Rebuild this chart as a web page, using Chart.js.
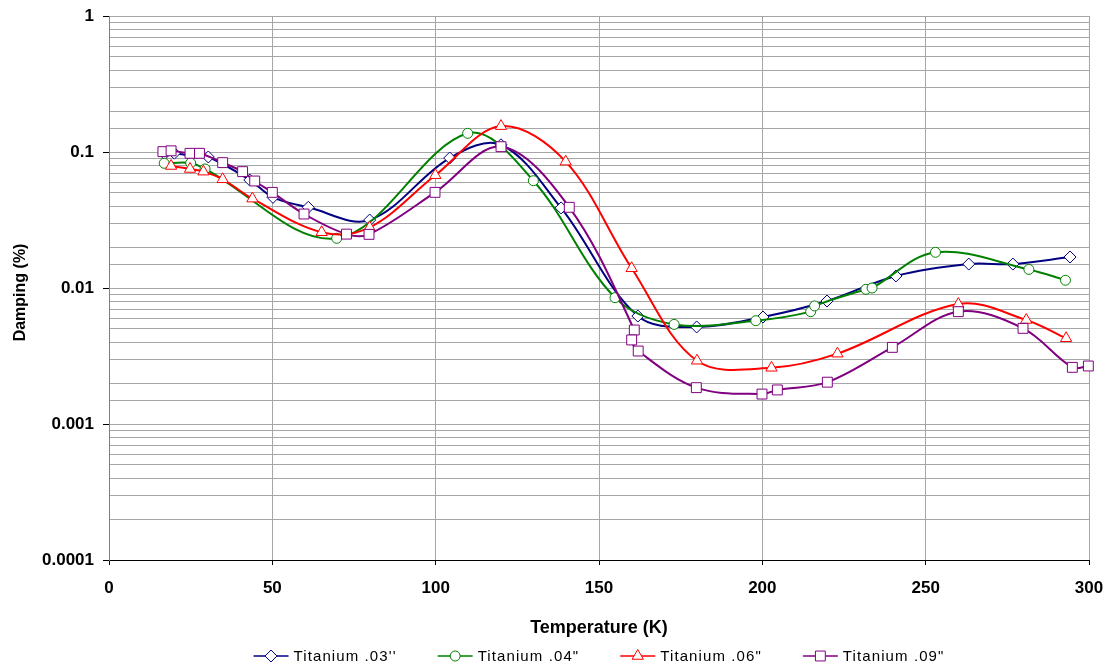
<!DOCTYPE html>
<html>
<head>
<meta charset="utf-8">
<script src="https://cdn.jsdelivr.net/npm/chart.js@4.4.1/dist/chart.umd.min.js"></script>
<style>
  html, body { margin: 0; padding: 0; background: #fff; }
</style>
</head>
<body>
<canvas id="chart" width="1109" height="668"></canvas>
<script>
// Temperature (K) and damping (%)
const temp03 = [17, 20, 25, 30.4, 43.1, 50.2, 61, 79.8, 104.3, 120, 138.4, 161.9, 179.9, 200.2, 219.8, 240.9, 263.2, 276.7, 294.2]
const damp03 = [0.097, 0.098, 0.094, 0.0919, 0.0622, 0.0464, 0.0392, 0.0316, 0.0903, 0.113, 0.0388, 0.00622, 0.00517, 0.00612, 0.00802, 0.01226, 0.0150, 0.0150, 0.0169]

const temp04 = [16.9, 25, 29.4, 69.7, 109.8, 129.9, 154.9, 173, 198, 214.8, 216, 231.7, 233.6, 253, 281.6, 292.8]
const damp04 = [0.0826, 0.083, 0.075, 0.0232, 0.1372, 0.0615, 0.00849, 0.0054, 0.00575, 0.0067, 0.00738, 0.00978, 0.0100, 0.0183, 0.0137, 0.0114]

const temp06 = [19, 24.8, 28.9, 34.8, 43.9, 65.1, 79.8, 99.9, 120, 139.8, 160, 180, 202.8, 223, 260, 280.8, 293]
const damp06 = [0.0789, 0.075, 0.0717, 0.063, 0.0454, 0.0257, 0.0279, 0.0675, 0.155, 0.0849, 0.01396, 0.00292, 0.00259, 0.00329, 0.00762, 0.00582, 0.00427]

const temp09 = [16.5, 19, 24.8, 27.7, 34.8, 40.9, 44.6, 50, 59.7, 72.7, 79.6, 99.8, 120, 140.9, 160.8, 160, 162, 179.8, 199.9, 204.6, 219.9, 239.8, 260, 279.8, 294.9, 299.8]
const damp09 = [0.1006, 0.102, 0.0978, 0.0978, 0.0835, 0.0717, 0.0612, 0.0505, 0.035, 0.0249, 0.0248, 0.0505, 0.1094, 0.0392, 0.00491, 0.00415, 0.00344, 0.00185, 0.00166, 0.00178, 0.00203, 0.00366, 0.0067, 0.00505, 0.00261, 0.00267]

const seriesNames = ["Titanium .03''", 'Titanium .04"', 'Titanium .06"', 'Titanium .09"']
const yTickLabels = ['0.0001', '0.001', '0.01', '0.1', '1']
const xTicks = [0, 50, 100, 150, 200, 250, 300]

const FONT = '"Liberation Sans", Arial, sans-serif'

function toPoints(xs, ys) {
    return xs.map((x, i) => ({ x: x, y: ys[i] }))
}

function isDecade(v) {
    const l = Math.log10(v)
    return Math.abs(l - Math.round(l)) < 1e-6
}

function series(label, xs, ys, color, style, radius, order) {
    return {
        label: label,
        data: toPoints(xs, ys),
        showLine: true,
        borderColor: color,
        borderWidth: 2,
        tension: 0.35,
        pointStyle: style,
        pointRadius: radius,
        pointHoverRadius: radius,
        pointBackgroundColor: '#ffffff',
        pointBorderColor: color,
        pointBorderWidth: 1,
        clip: false,
        order: order
    }
}

// Legend drawn by hand: line sample with marker, like the original
const bottomLegend = {
    id: 'bottomLegend',
    afterDraw(chart) {
        const ctx = chart.ctx
        const sets = chart.data.datasets
        ctx.save()
        ctx.font = '15px ' + FONT
        ctx.letterSpacing = '1.1px'
        const sample = 35, gap = 5, space = 41
        const widths = sets.map(ds => sample + gap + ctx.measureText(ds.label).width)
        const total = widths.reduce((a, b) => a + b, 0) + space * (sets.length - 1)
        let x = (chart.chartArea.left + chart.chartArea.right) / 2 - total / 2
        const y = 656
        sets.forEach((ds, i) => {
            ctx.strokeStyle = ds.borderColor
            ctx.lineWidth = 1.5
            ctx.beginPath()
            ctx.moveTo(x, y)
            ctx.lineTo(x + sample, y)
            ctx.stroke()
            ctx.fillStyle = '#ffffff'
            ctx.lineWidth = 1
            Chart.helpers.drawPoint(ctx, { pointStyle: ds.pointStyle, radius: ds.pointRadius, borderWidth: 1, rotation: 0 }, x + sample / 2, y)
            ctx.fillStyle = '#000000'
            ctx.textBaseline = 'middle'
            ctx.textAlign = 'left'
            ctx.fillText(ds.label, x + sample + gap, y + 1)
            x += widths[i] + space
        })
        ctx.restore()
    }
}

const config = {
    type: 'scatter',
    data: {
        datasets: [
            series(seriesNames[0], temp03, damp03, '#000080', 'rectRot', 6, 4),
            series(seriesNames[1], temp04, damp04, '#008000', 'circle', 5, 3),
            series(seriesNames[2], temp06, damp06, '#ff0000', 'triangle', 6.5, 2),
            series(seriesNames[3], temp09, damp09, '#800080', 'rect', 7, 1)
        ]
    },
    options: {
        responsive: false,
        animation: false,
        layout: { padding: { left: 0, right: 20, top: 16, bottom: 27 } },
        plugins: {
            legend: { display: false },
            tooltip: { enabled: false }
        },
        scales: {
            x: {
                type: 'linear',
                min: 0,
                max: 300,
                afterBuildTicks: scale => { scale.ticks = xTicks.map(v => ({ value: v })) },
                afterFit: scale => {
                    scale.height = 81
                    scale.paddingLeft = 0
                    scale.paddingRight = 0
                },
                grid: { color: '#a6a6a6', tickColor: '#000000', tickLength: 5, lineWidth: 1 },
                border: { color: '#000000', width: 1 },
                ticks: {
                    color: '#000000',
                    font: { family: FONT, size: 17, weight: 'bold' },
                    padding: 13,
                    maxRotation: 0
                },
                title: {
                    display: true,
                    text: 'Temperature (K)',
                    color: '#000000',
                    font: { family: FONT, size: 18, weight: 'bold' },
                    padding: { top: 4, bottom: 2 }
                }
            },
            y: {
                type: 'logarithmic',
                min: 0.0001,
                max: 1,
                afterFit: scale => {
                    scale.width = 109
                    scale.paddingTop = 0
                    scale.paddingBottom = 0
                },
                grid: {
                    color: '#a6a6a6',
                    lineWidth: 1,
                    tickLength: 6,
                    tickColor: ctx => (ctx.tick && isDecade(ctx.tick.value)) ? '#000000' : 'rgba(0,0,0,0)'
                },
                border: { color: '#808080', width: 1 },
                ticks: {
                    autoSkip: false,
                    color: '#000000',
                    font: { family: FONT, size: 17, weight: 'bold' },
                    padding: 9,
                    callback: v => isDecade(v) ? yTickLabels[Math.round(Math.log10(v)) + 4] : ''
                },
                title: {
                    display: true,
                    text: 'Damping (%)  ',
                    color: '#000000',
                    font: { family: FONT, size: 16, weight: 'bold' },
                    padding: { top: 11, bottom: 0 }
                }
            }
        }
    },
    plugins: [bottomLegend]
}

const chart = new Chart(document.getElementById('chart'), config)
</script>
</body>
</html>
